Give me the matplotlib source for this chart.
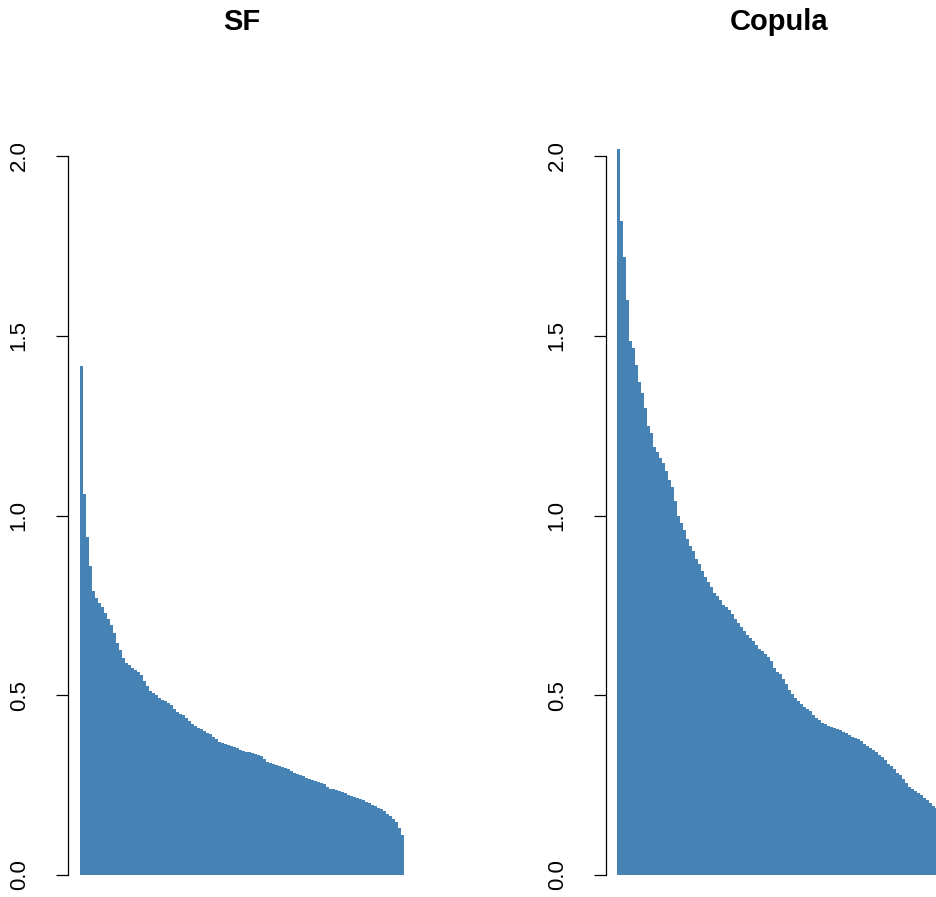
import numpy as np
import matplotlib.pyplot as plt

plt.rcParams['font.family'] = ['Liberation Sans', 'DejaVu Sans']

# sorted values
sf_vals = [1.416, 1.06, 0.94, 0.86, 0.79, 0.77, 0.757, 0.745, 0.728, 0.712,
           0.695, 0.672, 0.645, 0.625, 0.605, 0.59, 0.583, 0.576, 0.57, 0.565,
           0.555, 0.54, 0.525, 0.513, 0.505, 0.5, 0.493, 0.488, 0.484, 0.479,
           0.472, 0.462, 0.453, 0.448, 0.445, 0.437, 0.428, 0.42, 0.414, 0.409,
           0.405, 0.4, 0.396, 0.392, 0.385, 0.378, 0.371, 0.367, 0.364, 0.362,
           0.36, 0.356, 0.352, 0.349, 0.346, 0.343, 0.341, 0.339, 0.337, 0.335,
           0.332, 0.322, 0.315, 0.311, 0.308, 0.305, 0.302, 0.3, 0.297, 0.294,
           0.29, 0.285, 0.28, 0.277, 0.274, 0.271, 0.268, 0.265, 0.262, 0.26,
           0.257, 0.252, 0.245, 0.24, 0.238, 0.237, 0.235, 0.231, 0.227, 0.223,
           0.22, 0.217, 0.214, 0.212, 0.208, 0.203, 0.2, 0.196, 0.191, 0.187,
           0.183, 0.177, 0.17, 0.163, 0.157, 0.147, 0.13, 0.11]

copula_vals = [2.02, 1.82, 1.72, 1.6, 1.485, 1.465, 1.42, 1.37, 1.34, 1.3,
               1.25, 1.23, 1.19, 1.178, 1.16, 1.145, 1.125, 1.1, 1.08, 1.04,
               1.0, 0.98, 0.96, 0.935, 0.915, 0.9, 0.88, 0.865, 0.845, 0.83,
               0.815, 0.8, 0.785, 0.775, 0.765, 0.752, 0.745, 0.737, 0.725, 0.712,
               0.7, 0.69, 0.678, 0.668, 0.66, 0.65, 0.64, 0.63, 0.622, 0.615,
               0.607, 0.595, 0.575, 0.566, 0.558, 0.545, 0.532, 0.515, 0.503, 0.492,
               0.484, 0.476, 0.468, 0.462, 0.456, 0.446, 0.437, 0.43, 0.424, 0.419,
               0.415, 0.412, 0.409, 0.406, 0.403, 0.399, 0.394, 0.389, 0.385, 0.382,
               0.379, 0.372, 0.364, 0.358, 0.353, 0.348, 0.342, 0.335, 0.328, 0.32,
               0.31, 0.302, 0.294, 0.285, 0.278, 0.268, 0.255, 0.246, 0.24, 0.233,
               0.228, 0.222, 0.215, 0.208, 0.2, 0.193, 0.185, 0.175]

titles = ['SF', 'Copula']
yticks = [0.0, 0.5, 1.0, 1.5, 2.0]
ytick_labels = ['0.0', '0.5', '1.0', '1.5', '2.0']

W, H = 936, 897
fig = plt.figure(figsize=(W / 100, H / 100), dpi=100)

# pixel layout: (axis left x, first bar x)
panels = [(68, 80), (606, 617)]
ax_w = 347
px_bar = 3.0
y0_px, y_top = 875, 2.1
unit = 359.5

for (ax_x, bar_x), vals, title in zip(panels, [sf_vals, copula_vals], titles):
    ax = fig.add_axes([ax_x / W, (H - y0_px) / H, ax_w / W, y_top * unit / H])
    x = np.arange(len(vals))
    ax.bar(x, vals, width=1.0, align='edge', color='steelblue',
           linewidth=0, antialiased=False)
    off = (bar_x - ax_x) / px_bar
    ax.set_xlim(-off, -off + ax_w / px_bar)
    ax.set_ylim(0, y_top)
    for s in ['top', 'right', 'bottom']:
        ax.spines[s].set_visible(False)
    ax.spines['left'].set_bounds(0, 2.0)
    ax.spines['left'].set_linewidth(0.9)
    ax.set_xticks([])
    ax.set_yticks(yticks)
    ax.set_yticklabels(ytick_labels, rotation=90, va='center', fontsize=16)
    ax.tick_params(axis='y', length=8.6, width=0.9, pad=19)
    ax.patch.set_alpha(0)
    fig.text((ax_x + ax_w / 2) / W, 1 - 21.5 / H, title, ha='center',
             va='center', fontsize=21, fontweight='bold')

fig.savefig('out.png', dpi=100)
